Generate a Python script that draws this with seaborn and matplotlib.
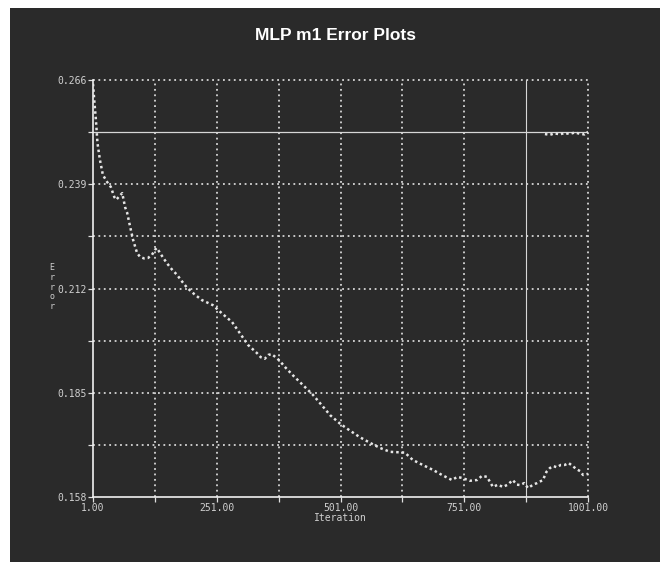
"""
MLP m1 error plot, redrawn from a screenshot of the training tool.
"""
import numpy as np
import pandas as pd
import matplotlib
matplotlib.use('Agg')
import matplotlib.pyplot as plt
import seaborn as sns

BG = '#2a2a2a'
GRID = '#d6d6d6'
TXT = '#d0d0d0'

# training error
iteration = [1, 4, 7, 10, 15, 21, 30, 37, 44, 48, 55, 60, 66, 70, 76, 82, 90, 96,
             104, 112, 120, 126, 130, 140, 150, 160, 171, 181, 191, 206, 221, 243,
             262, 282, 300, 314, 332, 340, 348, 355, 362, 370, 378, 390, 405, 425,
             445, 465, 480, 500, 520, 540, 561, 581, 601, 631, 647, 667, 688, 706,
             726, 737, 748, 762, 777, 787, 797, 809, 819, 829, 839, 849, 857, 864,
             872, 880, 890, 898, 910, 917, 924, 931, 938, 946, 954, 962, 970, 978,
             985, 991, 1001]
error = [0.2650, 0.2600, 0.2555, 0.2497, 0.2453, 0.2414, 0.2395, 0.2383, 0.2357,
         0.2350, 0.2360, 0.2367, 0.2330, 0.2316, 0.2280, 0.2246, 0.2212, 0.2202,
         0.2198, 0.2199, 0.2207, 0.2220, 0.2225, 0.2205, 0.2186, 0.2170, 0.2155,
         0.2138, 0.2122, 0.2105, 0.2090, 0.2077, 0.2055, 0.2033, 0.2000, 0.1974,
         0.1953, 0.1942, 0.1938, 0.1948, 0.1950, 0.1942, 0.1933, 0.1915, 0.1895,
         0.1870, 0.1845, 0.1815, 0.1792, 0.1770, 0.1752, 0.1735, 0.1720, 0.1707,
         0.1697, 0.1695, 0.1676, 0.1663, 0.1650, 0.1637, 0.1624, 0.1632, 0.1629,
         0.1622, 0.1624, 0.1635, 0.1632, 0.1606, 0.1612, 0.1606, 0.1612, 0.1624,
         0.1612, 0.1611, 0.1616, 0.1603, 0.1612, 0.1616, 0.1624, 0.1645, 0.1655,
         0.1660, 0.1657, 0.1663, 0.1663, 0.1668, 0.1660, 0.1652, 0.1647, 0.1637,
         0.1640]

# short second trace at the top right
iteration_2 = [914, 924, 934, 944, 954, 964, 974, 984, 994, 1001]
error_2 = [0.2520, 0.2518, 0.2522, 0.2519, 0.2523, 0.2520, 0.2524, 0.2521, 0.2519, 0.2526]

x_major = [1, 251, 501, 751, 1001]
x_minor = [126, 376, 626, 876]
y_major = [0.158, 0.185, 0.212, 0.239, 0.266]
y_minor = [0.1715, 0.1985, 0.2255, 0.2525]

sns.set_theme(style='dark')
plt.rcParams['font.family'] = ['DejaVu Sans']

fig = plt.figure(figsize=(6.6, 5.62), dpi=100, facecolor='white')
# dark panel behind everything
fig.patches.append(plt.Rectangle((10 / 660, 0), 1, 1 - 8 / 562, transform=fig.transFigure,
                                 facecolor=BG, edgecolor='none', zorder=-5))

ax = fig.add_axes([93 / 660, 1 - 497 / 562, 495 / 660, 417 / 562])
ax.set_zorder(2)
ax.set_facecolor(BG)

data = pd.DataFrame({'Iteration': iteration, 'Error': error})
data_2 = pd.DataFrame({'Iteration': iteration_2, 'Error': error_2})

sns.lineplot(x='Iteration', y='Error', data=data, ax=ax, color='#e6e6e6',
             linestyle=(0, (1, 1.2)), linewidth=1.8, zorder=4)
sns.lineplot(x='Iteration', y='Error', data=data_2, ax=ax, color='#e6e6e6',
             linestyle=(0, (1, 1.2)), linewidth=1.8, zorder=4)

ax.set_xlim(1, 1001)
ax.set_ylim(0.158, 0.266)
ax.set_xticks(x_major)
ax.set_xticks(x_minor, minor=True)
ax.set_yticks(y_major)
ax.set_yticks(y_minor, minor=True)
ax.set_xticklabels(['{:.2f}'.format(v) for v in x_major])
ax.set_yticklabels(['{:.3f}'.format(v) for v in y_major])

# dotted grid
for v in x_major[1:-1] + x_minor:
    if v == 876:
        ax.axvline(v, color=GRID, linewidth=0.8, zorder=2)
    else:
        ax.axvline(v, color=GRID, linestyle=(0, (1, 2)), linewidth=1.3, zorder=2)
for v in y_major[1:-1] + y_minor:
    if v == 0.2525:
        ax.axhline(v, color=GRID, linewidth=0.9, zorder=2)
    else:
        ax.axhline(v, color=GRID, linestyle=(0, (1, 2)), linewidth=1.3, zorder=2)
ax.axhline(0.266, color=GRID, linestyle=(0, (1, 2)), linewidth=1.3, zorder=2, clip_on=False)
ax.axvline(1001, color=GRID, linestyle=(0, (1, 2)), linewidth=1.3, zorder=2, clip_on=False)

for side in ['top', 'right']:
    ax.spines[side].set_visible(False)
for side in ['left', 'bottom']:
    ax.spines[side].set_color('#f0f0f0')
    ax.spines[side].set_linewidth(1.2)

ax.tick_params(which='both', direction='out', color='#e0e0e0', labelcolor=TXT,
               labelsize=7, length=3.5, width=0.9, pad=1,
               left=True, bottom=True)
for lab in ax.get_xticklabels() + ax.get_yticklabels():
    lab.set_family('DejaVu Sans Mono')

ax.set_xlabel('')
ax.set_ylabel('')
fig.text(340 / 660, 1 - 518 / 562, 'Iteration', color=TXT, fontsize=7,
         family='DejaVu Sans Mono', ha='center', va='center')
fig.text(52 / 660, 1 - 287 / 562, 'E\nr\nr\no\nr', color=TXT, fontsize=6,
         family='DejaVu Sans Mono', ha='center', va='center', linespacing=1.1)

fig.text(336 / 660, 1 - 36 / 562, 'MLP m1 Error Plots', color='white', fontsize=12.5,
         fontweight='bold', family='Liberation Sans', ha='center', va='center')

fig.savefig('out.png', dpi=100, facecolor='white')
